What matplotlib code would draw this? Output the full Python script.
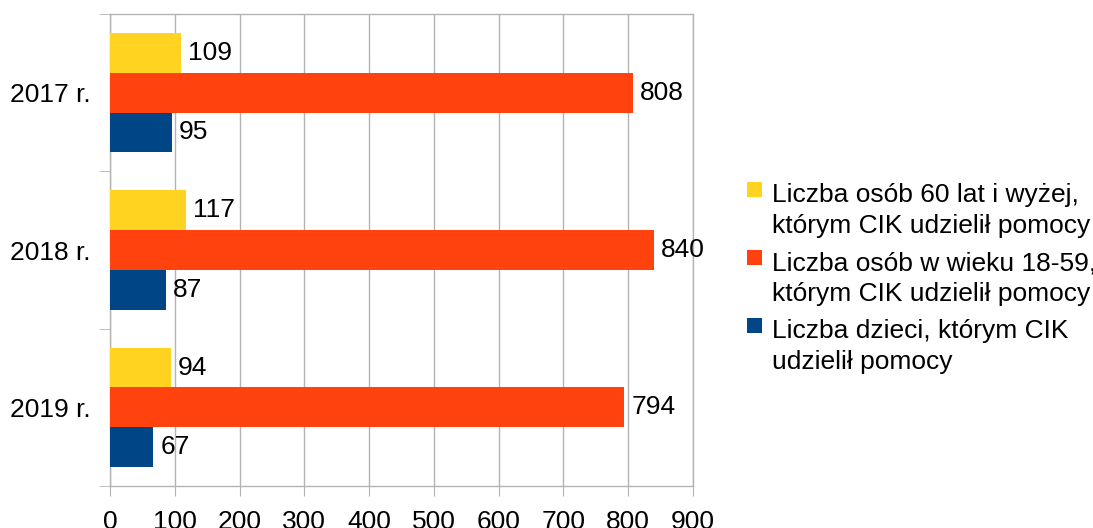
import matplotlib.pyplot as plt
import numpy as np
from matplotlib.patches import Rectangle

plt.rcParams['font.family'] = ['Liberation Sans', 'DejaVu Sans']

# dane
lata = ['2017 r.', '2018 r.', '2019 r.']
seniorzy = [109, 117, 94]
dorosli = [808, 840, 794]
dzieci = [95, 87, 67]

etykiety = ['Liczba osób 60 lat i wyżej,\nktórym CIK udzielił pomocy',
            'Liczba osób w wieku 18-59,\nktórym CIK udzielił pomocy',
            'Liczba dzieci, którym CIK\nudzielił pomocy']
kolory = ['#FFD320', '#FF420E', '#004586']
szary = '#b3b3b3'
fs = 19

W, H = 1093, 528
fig = plt.figure(figsize=(W / 100, H / 100), dpi=100)
ax = fig.add_axes([110 / W, 1 - 486 / H, (693 - 110) / W, (486 - 14) / H])

y = np.arange(len(lata))
h = 0.253
serie = [seniorzy, dorosli, dzieci]
for i, (vals, kol) in enumerate(zip(serie, kolory)):
    pos = y + (i - 1) * h
    bars = ax.barh(pos, vals, height=h, color=kol, zorder=3)
    for b, v in zip(bars, vals):
        ax.annotate(str(v), (v, b.get_y() + b.get_height() / 2),
                    xytext=(5, 0), textcoords='offset points',
                    va='center', ha='left', fontsize=fs, zorder=4)

ax.set_xlim(0, 900)
ax.set_ylim(len(lata) - 0.5, -0.5)
ax.set_xticks(np.arange(0, 901, 100))
ax.set_yticks(y)
ax.set_yticklabels(lata)
ax.set_yticks(np.arange(-0.5, len(lata), 1), minor=True)

ax.tick_params(axis='x', length=7, color=szary, labelsize=fs, pad=10)
ax.tick_params(axis='y', which='major', length=0, labelsize=fs, pad=14)
ax.tick_params(axis='y', which='minor', length=8, color=szary)

ax.grid(axis='x', color=szary, linewidth=1, zorder=0)
for s in ['top', 'bottom', 'left', 'right']:
    ax.spines[s].set_color(szary)
    ax.spines[s].set_linewidth(1)

# legenda rysowana recznie (kwadrat przy pierwszej linii)
for i, (tekst, kol) in enumerate(zip(etykiety, kolory)):
    base = 202 + 68 * i
    fig.patches.append(Rectangle((747 / W, 1 - (base - 5) / H), 15 / W, 15 / H,
                                 transform=fig.transFigure, facecolor=kol, edgecolor='none'))
    for j, linia in enumerate(tekst.split('\n')):
        fig.text(772 / W, 1 - (base + 31 * j) / H, linia, fontsize=fs,
                 va='baseline', ha='left')

fig.savefig('out.png', dpi=100)
